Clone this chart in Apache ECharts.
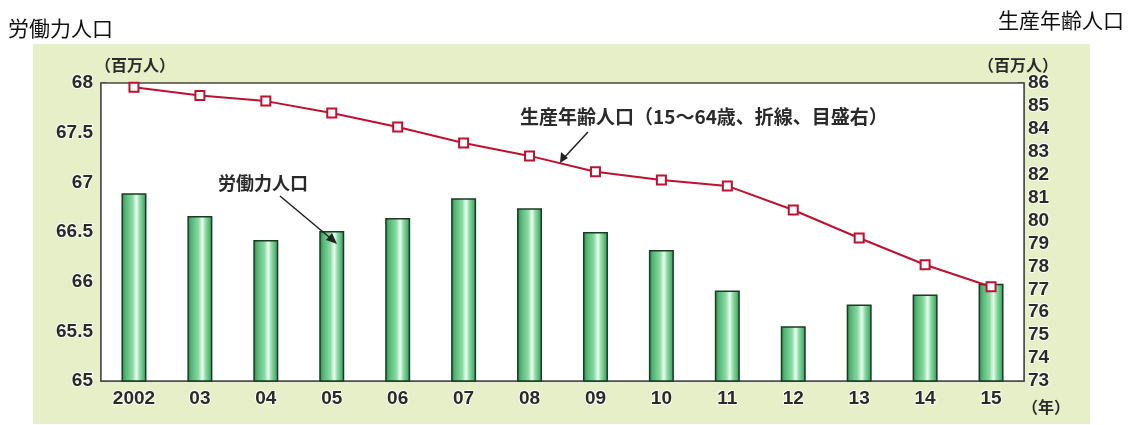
<!DOCTYPE html>
<html>
<head>
<meta charset="utf-8">
<script src="https://cdn.jsdelivr.net/npm/echarts@6/dist/echarts.min.js"></script>
<style>html,body{margin:0;padding:0;background:#fff;}#c{width:1130px;height:425px;}</style>
</head>
<body>
<div id="c"></div>
<script>
const categories = ['2002','03','04','05','06','07','08','09','10','11','12','13','14','15'];
const laborForce = [66.89, 66.66, 66.42, 66.51, 66.64, 66.84, 66.74, 66.50, 66.32, 65.91, 65.55, 65.77, 65.87, 65.98];
const workingAge = [85.81, 85.45, 85.21, 84.69, 84.08, 83.38, 82.82, 82.13, 81.77, 81.51, 80.46, 79.24, 78.07, 77.11];
const leftTitle = '労働力人口';
const rightTitle = '生産年齢人口';
const unitLabel = '（百万人）';
const yearLabel = '（年）';
const barNote = '労働力人口';
const lineNote = '生産年齢人口（15～64歳、折線、目盛右）';

const chart = echarts.init(document.getElementById('c'), null, {renderer: 'canvas'});
const axisFont = {fontFamily: 'Liberation Sans, Arial, sans-serif', fontWeight: 'bold', fontSize: 19, color: '#2a2a2a', textBorderColor: 'rgba(255,255,255,0.8)', textBorderWidth: 2};
const cjk = 'Noto Sans CJK JP, sans-serif';

const barGrad = new echarts.graphic.LinearGradient(0, 0, 1, 0, [
  {offset: 0, color: '#2f7f48'},
  {offset: 0.15, color: '#52b574'},
  {offset: 0.45, color: '#8cdba5'},
  {offset: 0.6, color: '#ecfff2'},
  {offset: 0.72, color: '#92dda9'},
  {offset: 0.9, color: '#4fb171'},
  {offset: 1, color: '#2f7f48'}
]);

chart.setOption({
  animation: false,
  backgroundColor: '#ffffff',
  grid: {left: 101, right: 106, top: 83, bottom: 44, show: true, backgroundColor: '#ffffff', borderColor: '#4a4a4a', borderWidth: 1.5, z: 1},
  xAxis: {
    type: 'category', data: categories, boundaryGap: true,
    axisLine: {lineStyle: {color: '#4a4a4a', width: 1.5}},
    axisTick: {show: false},
    axisLabel: Object.assign({margin: 8}, axisFont)
  },
  yAxis: [
    {type: 'value', min: 65, max: 68, interval: 0.5, position: 'left',
     splitLine: {show: false},
     axisLine: {show: true, lineStyle: {color: '#4a4a4a', width: 1.5}},
     axisTick: {show: true, inside: true, length: 6, lineStyle: {color: '#4a4a4a', width: 1.5}},
     axisLabel: Object.assign({margin: 8}, axisFont)},
    {type: 'value', min: 73, max: 86, interval: 1, position: 'right',
     splitLine: {show: false},
     axisLine: {show: true, lineStyle: {color: '#4a4a4a', width: 1.5}},
     axisTick: {show: true, inside: true, length: 6, lineStyle: {color: '#4a4a4a', width: 1.5}},
     axisLabel: Object.assign({margin: 4}, axisFont)}
  ],
  series: [
    {type: 'bar', data: laborForce, yAxisIndex: 0, barWidth: 25, z: 2,
     itemStyle: {color: barGrad, borderColor: '#1d3a24', borderWidth: 1.5}},
    {type: 'line', data: workingAge, yAxisIndex: 1, z: 3,
     lineStyle: {color: '#bf1030', width: 2},
     symbol: 'rect', symbolSize: 9,
     itemStyle: {color: '#ffffff', borderColor: '#bf1030', borderWidth: 2}}
  ],
  graphic: [
    {type: 'rect', z: -10, silent: true, shape: {x: 33, y: 44, width: 1057, height: 380}, style: {fill: '#e6efc7'}},
    {type: 'text', left: 8, top: 18, style: {text: leftTitle, font: '21px ' + cjk, fill: '#111'}},
    {type: 'text', right: 6, top: 10, style: {text: rightTitle, font: '21px ' + cjk, fill: '#111'}},
    {type: 'text', x: 95, y: 57, style: {text: unitLabel, font: 'bold 16px ' + cjk, fill: '#2a2a2a'}},
    {type: 'text', x: 978, y: 57, style: {text: unitLabel, font: 'bold 16px ' + cjk, fill: '#2a2a2a'}},
    {type: 'text', x: 1022, y: 399, style: {text: yearLabel, font: 'bold 16px ' + cjk, fill: '#2a2a2a'}},
    {type: 'text', x: 218, y: 174, z: 10, style: {text: barNote, font: 'bold 18px ' + cjk, fill: '#2a2a2a'}},
    {type: 'text', x: 520, y: 107, z: 10, style: {text: lineNote, font: 'bold 19px ' + cjk, fill: '#2a2a2a'}},
    {type: 'line', z: 10, shape: {x1: 280, y1: 196, x2: 335, y2: 242}, style: {stroke: '#222', lineWidth: 1.5}},
    {type: 'polygon', z: 10, shape: {points: [[337, 244], [326, 240], [332, 233]]}, style: {fill: '#222'}},
    {type: 'line', z: 10, shape: {x1: 588, y1: 132, x2: 562, y2: 160}, style: {stroke: '#222', lineWidth: 1.5}},
    {type: 'polygon', z: 10, shape: {points: [[560, 163], [561, 152], [568, 158]]}, style: {fill: '#222'}}
  ]
});
</script>
</body>
</html>
